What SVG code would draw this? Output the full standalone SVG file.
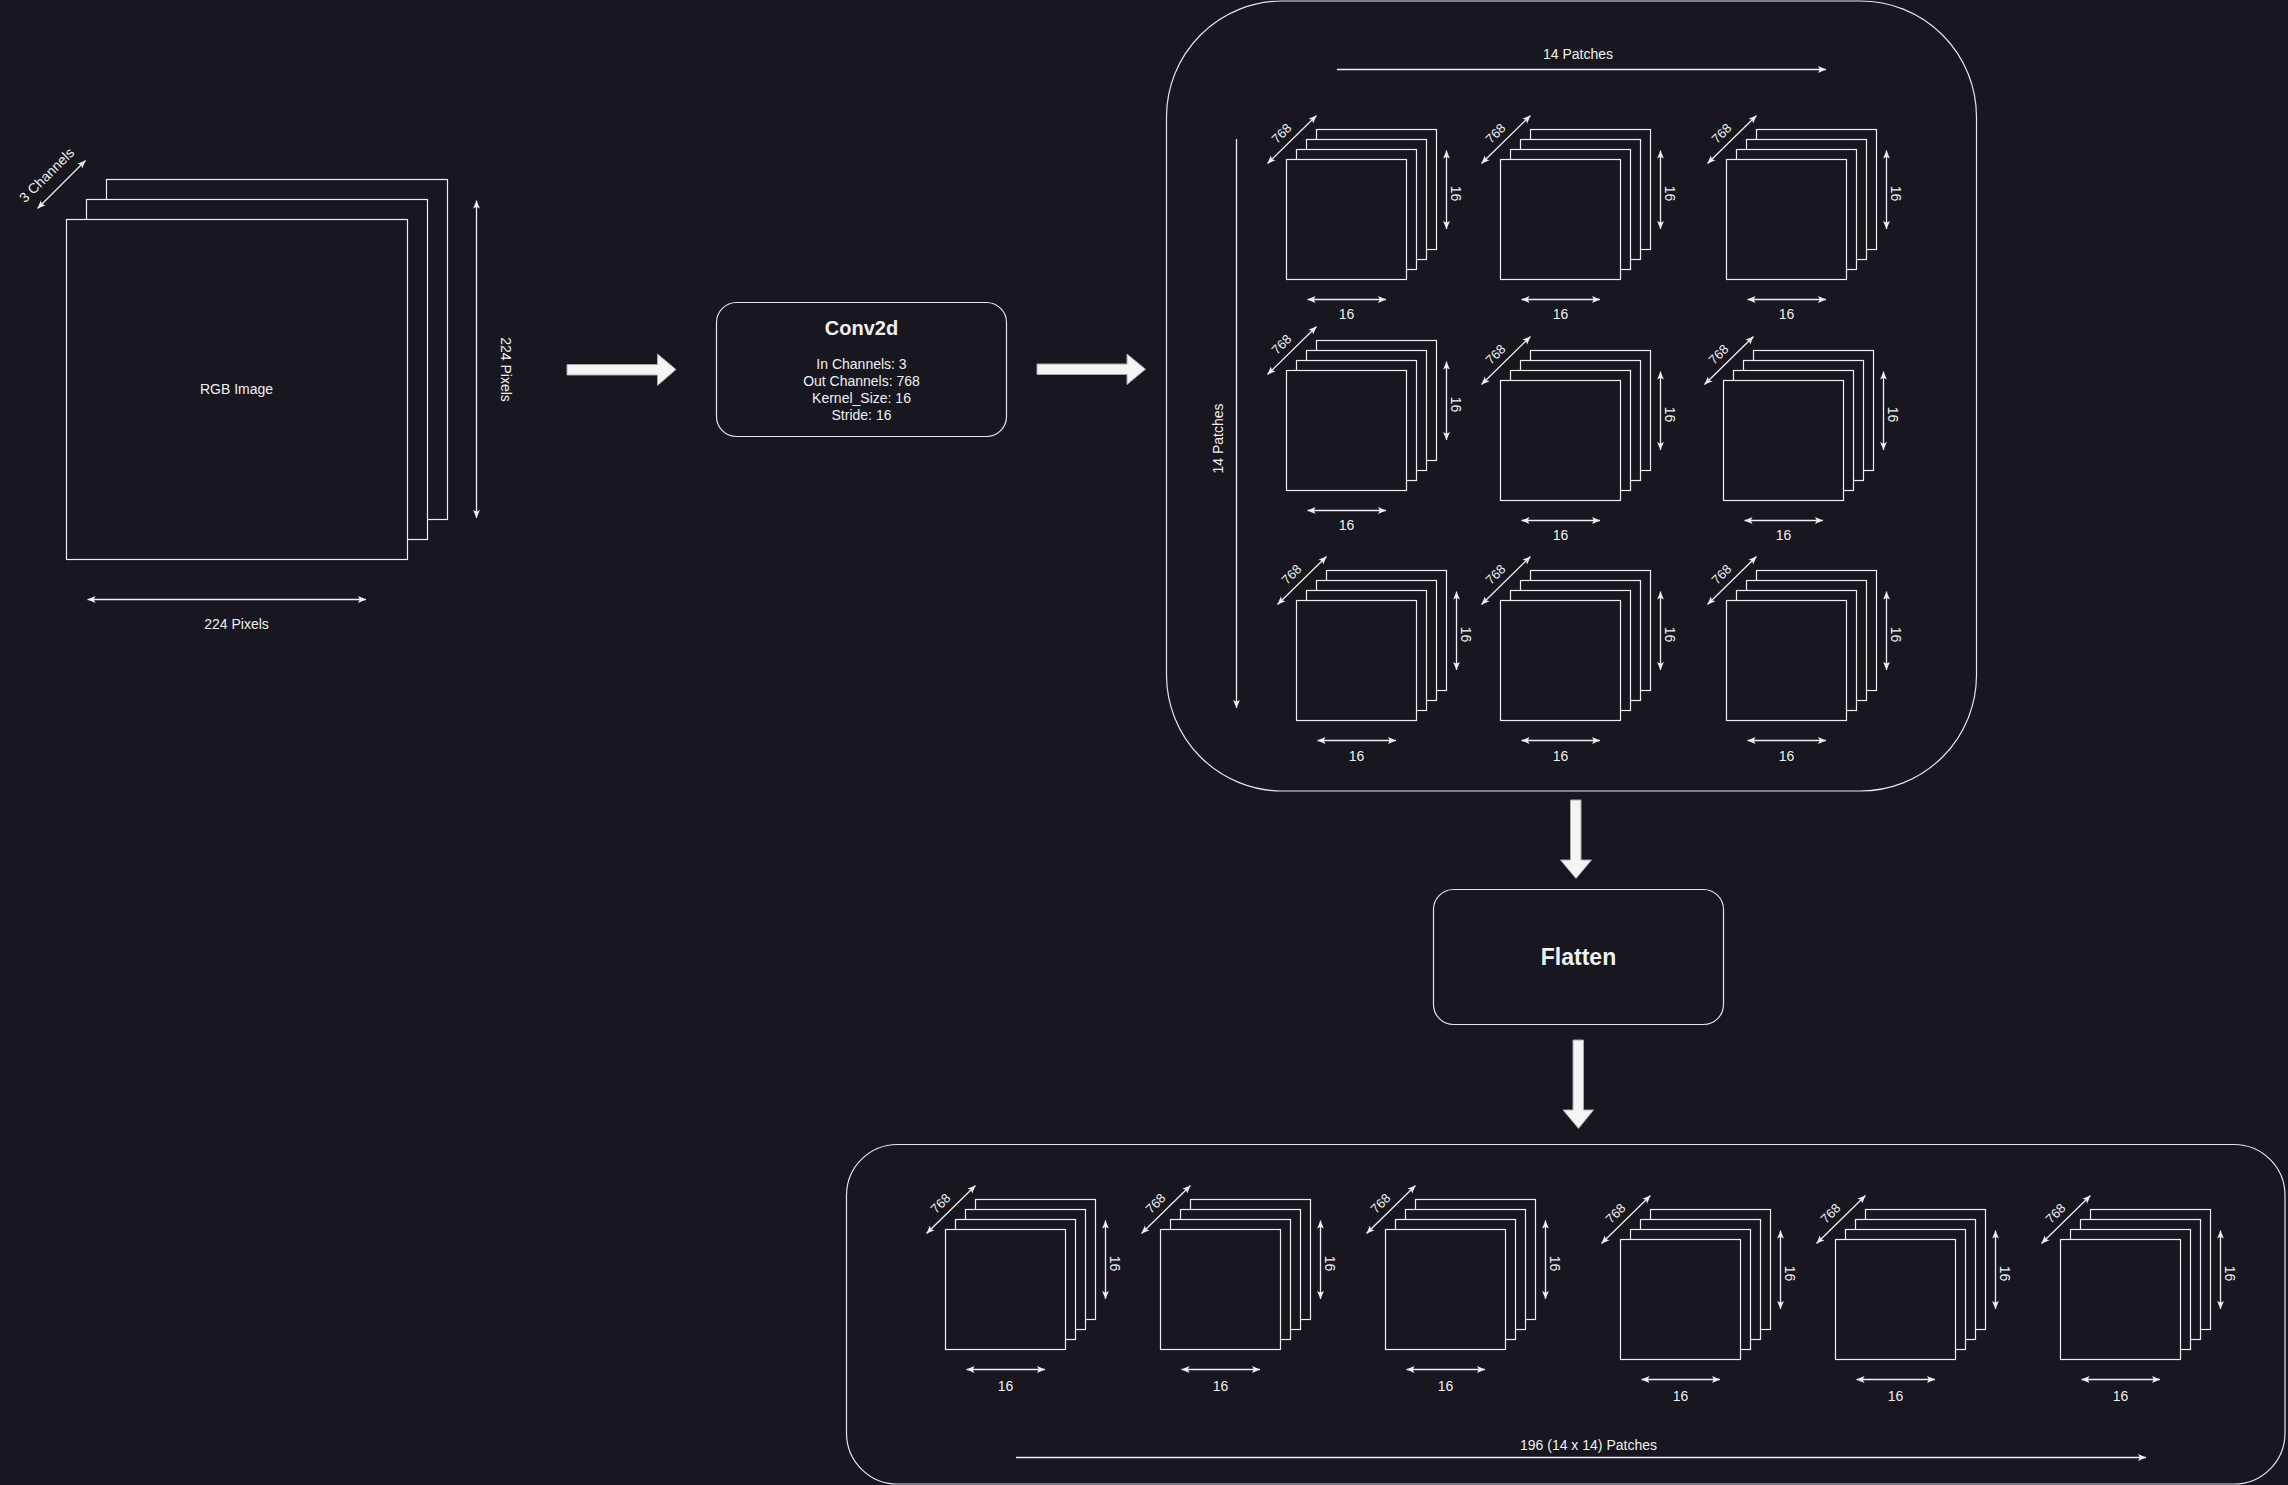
<svg xmlns="http://www.w3.org/2000/svg" width="2288" height="1485" viewBox="0 0 2288 1485">
<defs>
<style>
.bg{fill:#18161f}
.p{fill:#18161f;stroke:#eeeeee;stroke-width:1.2}
.box{fill:#18161f;stroke:#e6e6e6;stroke-width:1.2}
.d{stroke:#eeeeee;stroke-width:1.3;fill:none;marker-start:url(#ah);marker-end:url(#ah)}
.s{stroke:#eeeeee;stroke-width:1.3;fill:none;marker-end:url(#ah)}
.blk{fill:#f4f4f4;stroke:#a8a8a8;stroke-width:1}
text{font-family:"Liberation Sans",Arial,Helvetica,sans-serif;fill:#f0f0f0;text-anchor:middle}
.t{font-size:14px}
.t13{font-size:13px}
.h1{font-size:20px;font-weight:bold}
.h2{font-size:23px;font-weight:bold}
</style>
<marker id="ah" markerUnits="userSpaceOnUse" markerWidth="8" markerHeight="8" viewBox="0 0 8 8" refX="8" refY="4" orient="auto-start-reverse">
<path d="M0,0.6 L8,4 L0,7.4 L1.8,4 Z" fill="#eeeeee"/>
</marker>
</defs>
<rect class="bg" x="0" y="0" width="2288" height="1485"/>

<g id="rgb-image">
<rect class="p" x="106.5" y="179.5" width="341" height="340"/>
<rect class="p" x="86.5" y="199.5" width="341" height="340"/>
<rect class="p" x="66.5" y="219.5" width="341" height="340"/>
<text class="t" x="236.5" y="394">RGB Image</text>
<line class="d" x1="37.5" y1="208.5" x2="85.5" y2="160.5"/>
<text class="t" transform="translate(46.5,175) rotate(-45)" y="5">3 Channels</text>
<line class="d" x1="476.5" y1="200.5" x2="476.5" y2="518"/>
<text class="t" transform="translate(505.5,369.5) rotate(90)" y="5">224 Pixels</text>
<line class="d" x1="87.5" y1="599.5" x2="366" y2="599.5"/>
<text class="t" x="236.5" y="629">224 Pixels</text>
</g>

<g id="conv2d">
<rect class="box" x="716.5" y="302.5" width="290" height="134" rx="20" ry="20"/>
<text class="h1" x="861.5" y="335">Conv2d</text>
<text class="t" x="861.5" y="369">In Channels: 3</text>
<text class="t" x="861.5" y="386">Out Channels: 768</text>
<text class="t" x="861.5" y="403">Kernel_Size: 16</text>
<text class="t" x="861.5" y="420">Stride: 16</text>
</g>

<g id="patch-grid">
<rect class="box" x="1166.5" y="1" width="810" height="790" rx="116" ry="116"/>
<line class="s" x1="1337" y1="69.5" x2="1826" y2="69.5"/>
<text class="t" x="1578" y="59">14 Patches</text>
<line class="s" x1="1236.5" y1="139" x2="1236.5" y2="708"/>
<text class="t" transform="translate(1218,438.5) rotate(-90)" y="5">14 Patches</text>
</g>

<g id="patch-r1c1" transform="translate(1286.5,159.5)">
<rect class="p" x="30" y="-30" width="120" height="120"/><rect class="p" x="20" y="-20" width="120" height="120"/><rect class="p" x="10" y="-10" width="120" height="120"/><rect class="p" x="0" y="0" width="120" height="120"/>
<line class="d" x1="-19" y1="4" x2="30" y2="-44"/><text class="t13" transform="translate(-5,-26) rotate(-45)" y="4.5">768</text>
<line class="d" x1="160" y1="-9" x2="160" y2="69.5"/><text class="t" transform="translate(169,34) rotate(90)" y="5">16</text>
<line class="d" x1="21" y1="140" x2="99.5" y2="140"/><text class="t" x="60" y="159.5">16</text>
</g>
<g id="patch-r1c2" transform="translate(1500.5,159.5)">
<rect class="p" x="30" y="-30" width="120" height="120"/><rect class="p" x="20" y="-20" width="120" height="120"/><rect class="p" x="10" y="-10" width="120" height="120"/><rect class="p" x="0" y="0" width="120" height="120"/>
<line class="d" x1="-19" y1="4" x2="30" y2="-44"/><text class="t13" transform="translate(-5,-26) rotate(-45)" y="4.5">768</text>
<line class="d" x1="160" y1="-9" x2="160" y2="69.5"/><text class="t" transform="translate(169,34) rotate(90)" y="5">16</text>
<line class="d" x1="21" y1="140" x2="99.5" y2="140"/><text class="t" x="60" y="159.5">16</text>
</g>
<g id="patch-r1c3" transform="translate(1726.5,159.5)">
<rect class="p" x="30" y="-30" width="120" height="120"/><rect class="p" x="20" y="-20" width="120" height="120"/><rect class="p" x="10" y="-10" width="120" height="120"/><rect class="p" x="0" y="0" width="120" height="120"/>
<line class="d" x1="-19" y1="4" x2="30" y2="-44"/><text class="t13" transform="translate(-5,-26) rotate(-45)" y="4.5">768</text>
<line class="d" x1="160" y1="-9" x2="160" y2="69.5"/><text class="t" transform="translate(169,34) rotate(90)" y="5">16</text>
<line class="d" x1="21" y1="140" x2="99.5" y2="140"/><text class="t" x="60" y="159.5">16</text>
</g>
<g id="patch-r2c1" transform="translate(1286.5,370.5)">
<rect class="p" x="30" y="-30" width="120" height="120"/><rect class="p" x="20" y="-20" width="120" height="120"/><rect class="p" x="10" y="-10" width="120" height="120"/><rect class="p" x="0" y="0" width="120" height="120"/>
<line class="d" x1="-19" y1="4" x2="30" y2="-44"/><text class="t13" transform="translate(-5,-26) rotate(-45)" y="4.5">768</text>
<line class="d" x1="160" y1="-9" x2="160" y2="69.5"/><text class="t" transform="translate(169,34) rotate(90)" y="5">16</text>
<line class="d" x1="21" y1="140" x2="99.5" y2="140"/><text class="t" x="60" y="159.5">16</text>
</g>
<g id="patch-r2c2" transform="translate(1500.5,380.5)">
<rect class="p" x="30" y="-30" width="120" height="120"/><rect class="p" x="20" y="-20" width="120" height="120"/><rect class="p" x="10" y="-10" width="120" height="120"/><rect class="p" x="0" y="0" width="120" height="120"/>
<line class="d" x1="-19" y1="4" x2="30" y2="-44"/><text class="t13" transform="translate(-5,-26) rotate(-45)" y="4.5">768</text>
<line class="d" x1="160" y1="-9" x2="160" y2="69.5"/><text class="t" transform="translate(169,34) rotate(90)" y="5">16</text>
<line class="d" x1="21" y1="140" x2="99.5" y2="140"/><text class="t" x="60" y="159.5">16</text>
</g>
<g id="patch-r2c3" transform="translate(1723.5,380.5)">
<rect class="p" x="30" y="-30" width="120" height="120"/><rect class="p" x="20" y="-20" width="120" height="120"/><rect class="p" x="10" y="-10" width="120" height="120"/><rect class="p" x="0" y="0" width="120" height="120"/>
<line class="d" x1="-19" y1="4" x2="30" y2="-44"/><text class="t13" transform="translate(-5,-26) rotate(-45)" y="4.5">768</text>
<line class="d" x1="160" y1="-9" x2="160" y2="69.5"/><text class="t" transform="translate(169,34) rotate(90)" y="5">16</text>
<line class="d" x1="21" y1="140" x2="99.5" y2="140"/><text class="t" x="60" y="159.5">16</text>
</g>
<g id="patch-r3c1" transform="translate(1296.5,600.5)">
<rect class="p" x="30" y="-30" width="120" height="120"/><rect class="p" x="20" y="-20" width="120" height="120"/><rect class="p" x="10" y="-10" width="120" height="120"/><rect class="p" x="0" y="0" width="120" height="120"/>
<line class="d" x1="-19" y1="4" x2="30" y2="-44"/><text class="t13" transform="translate(-5,-26) rotate(-45)" y="4.5">768</text>
<line class="d" x1="160" y1="-9" x2="160" y2="69.5"/><text class="t" transform="translate(169,34) rotate(90)" y="5">16</text>
<line class="d" x1="21" y1="140" x2="99.5" y2="140"/><text class="t" x="60" y="160.5">16</text>
</g>
<g id="patch-r3c2" transform="translate(1500.5,600.5)">
<rect class="p" x="30" y="-30" width="120" height="120"/><rect class="p" x="20" y="-20" width="120" height="120"/><rect class="p" x="10" y="-10" width="120" height="120"/><rect class="p" x="0" y="0" width="120" height="120"/>
<line class="d" x1="-19" y1="4" x2="30" y2="-44"/><text class="t13" transform="translate(-5,-26) rotate(-45)" y="4.5">768</text>
<line class="d" x1="160" y1="-9" x2="160" y2="69.5"/><text class="t" transform="translate(169,34) rotate(90)" y="5">16</text>
<line class="d" x1="21" y1="140" x2="99.5" y2="140"/><text class="t" x="60" y="160.5">16</text>
</g>
<g id="patch-r3c3" transform="translate(1726.5,600.5)">
<rect class="p" x="30" y="-30" width="120" height="120"/><rect class="p" x="20" y="-20" width="120" height="120"/><rect class="p" x="10" y="-10" width="120" height="120"/><rect class="p" x="0" y="0" width="120" height="120"/>
<line class="d" x1="-19" y1="4" x2="30" y2="-44"/><text class="t13" transform="translate(-5,-26) rotate(-45)" y="4.5">768</text>
<line class="d" x1="160" y1="-9" x2="160" y2="69.5"/><text class="t" transform="translate(169,34) rotate(90)" y="5">16</text>
<line class="d" x1="21" y1="140" x2="99.5" y2="140"/><text class="t" x="60" y="160.5">16</text>
</g>

<g id="flatten">
<rect class="box" x="1433.5" y="889.5" width="290" height="135" rx="20" ry="20"/>
<text class="h2" x="1578.5" y="965">Flatten</text>
</g>

<g id="flattened-patches">
<rect class="box" x="846.5" y="1144.5" width="1438.5" height="339.5" rx="51" ry="51"/>
<line class="s" x1="1016" y1="1457.5" x2="2146" y2="1457.5"/>
<text class="t" x="1588.5" y="1450">196 (14 x 14) Patches</text>
</g>

<g id="flat-p1" transform="translate(945.5,1229.5)">
<rect class="p" x="30" y="-30" width="120" height="120"/><rect class="p" x="20" y="-20" width="120" height="120"/><rect class="p" x="10" y="-10" width="120" height="120"/><rect class="p" x="0" y="0" width="120" height="120"/>
<line class="d" x1="-19" y1="4" x2="30" y2="-44"/><text class="t13" transform="translate(-5,-26) rotate(-45)" y="4.5">768</text>
<line class="d" x1="160" y1="-9" x2="160" y2="69.5"/><text class="t" transform="translate(169,34) rotate(90)" y="5">16</text>
<line class="d" x1="21" y1="140" x2="99.5" y2="140"/><text class="t" x="60" y="161">16</text>
</g>
<g id="flat-p2" transform="translate(1160.5,1229.5)">
<rect class="p" x="30" y="-30" width="120" height="120"/><rect class="p" x="20" y="-20" width="120" height="120"/><rect class="p" x="10" y="-10" width="120" height="120"/><rect class="p" x="0" y="0" width="120" height="120"/>
<line class="d" x1="-19" y1="4" x2="30" y2="-44"/><text class="t13" transform="translate(-5,-26) rotate(-45)" y="4.5">768</text>
<line class="d" x1="160" y1="-9" x2="160" y2="69.5"/><text class="t" transform="translate(169,34) rotate(90)" y="5">16</text>
<line class="d" x1="21" y1="140" x2="99.5" y2="140"/><text class="t" x="60" y="161">16</text>
</g>
<g id="flat-p3" transform="translate(1385.5,1229.5)">
<rect class="p" x="30" y="-30" width="120" height="120"/><rect class="p" x="20" y="-20" width="120" height="120"/><rect class="p" x="10" y="-10" width="120" height="120"/><rect class="p" x="0" y="0" width="120" height="120"/>
<line class="d" x1="-19" y1="4" x2="30" y2="-44"/><text class="t13" transform="translate(-5,-26) rotate(-45)" y="4.5">768</text>
<line class="d" x1="160" y1="-9" x2="160" y2="69.5"/><text class="t" transform="translate(169,34) rotate(90)" y="5">16</text>
<line class="d" x1="21" y1="140" x2="99.5" y2="140"/><text class="t" x="60" y="161">16</text>
</g>
<g id="flat-p4" transform="translate(1620.5,1239.5)">
<rect class="p" x="30" y="-30" width="120" height="120"/><rect class="p" x="20" y="-20" width="120" height="120"/><rect class="p" x="10" y="-10" width="120" height="120"/><rect class="p" x="0" y="0" width="120" height="120"/>
<line class="d" x1="-19" y1="4" x2="30" y2="-44"/><text class="t13" transform="translate(-5,-26) rotate(-45)" y="4.5">768</text>
<line class="d" x1="160" y1="-9" x2="160" y2="69.5"/><text class="t" transform="translate(169,34) rotate(90)" y="5">16</text>
<line class="d" x1="21" y1="140" x2="99.5" y2="140"/><text class="t" x="60" y="161">16</text>
</g>
<g id="flat-p5" transform="translate(1835.5,1239.5)">
<rect class="p" x="30" y="-30" width="120" height="120"/><rect class="p" x="20" y="-20" width="120" height="120"/><rect class="p" x="10" y="-10" width="120" height="120"/><rect class="p" x="0" y="0" width="120" height="120"/>
<line class="d" x1="-19" y1="4" x2="30" y2="-44"/><text class="t13" transform="translate(-5,-26) rotate(-45)" y="4.5">768</text>
<line class="d" x1="160" y1="-9" x2="160" y2="69.5"/><text class="t" transform="translate(169,34) rotate(90)" y="5">16</text>
<line class="d" x1="21" y1="140" x2="99.5" y2="140"/><text class="t" x="60" y="161">16</text>
</g>
<g id="flat-p6" transform="translate(2060.5,1239.5)">
<rect class="p" x="30" y="-30" width="120" height="120"/><rect class="p" x="20" y="-20" width="120" height="120"/><rect class="p" x="10" y="-10" width="120" height="120"/><rect class="p" x="0" y="0" width="120" height="120"/>
<line class="d" x1="-19" y1="4" x2="30" y2="-44"/><text class="t13" transform="translate(-5,-26) rotate(-45)" y="4.5">768</text>
<line class="d" x1="160" y1="-9" x2="160" y2="69.5"/><text class="t" transform="translate(169,34) rotate(90)" y="5">16</text>
<line class="d" x1="21" y1="140" x2="99.5" y2="140"/><text class="t" x="60" y="161">16</text>
</g>

<g id="connectors">
<polygon class="blk" points="567,364.5 657.5,364.5 657.5,354 676,369.5 657.5,385.5 657.5,375 567,375"/>
<polygon class="blk" points="1037,364 1127,364 1127,354 1145.5,369.2 1127,384.5 1127,374.5 1037,374.5"/>
<polygon class="blk" points="1570.5,800 1581,800 1581,860 1591.5,860 1576,878.5 1560.5,860 1570.5,860"/>
<polygon class="blk" points="1573,1040 1583.5,1040 1583.5,1110 1593.5,1110 1578.5,1128.5 1563,1110 1573,1110"/>
</g>
</svg>
